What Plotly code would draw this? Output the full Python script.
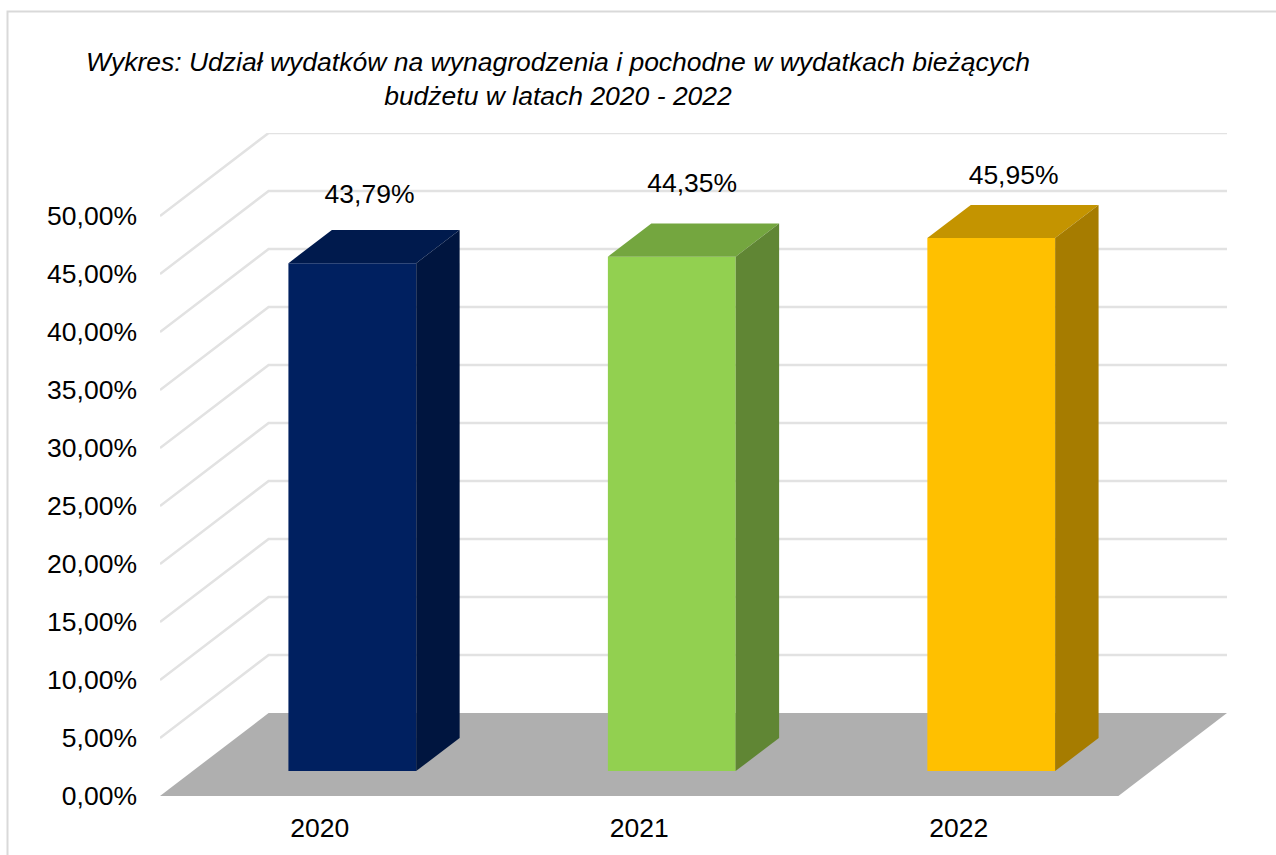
import plotly.graph_objects as go

# ---- data ----
years = ["2020", "2021", "2022"]
values = [43.79, 44.35, 45.95]
y_ticks = [0, 5, 10, 15, 20, 25, 30, 35, 40, 45, 50]
title_lines = [
    "Wykres: Udział wydatków na wynagrodzenia i pochodne w wydatkach bieżących",
    "budżetu w latach 2020 - 2022",
]

# ---- styling / pseudo-3D geometry, in axis units ----
front_colors = ["#002060", "#92D050", "#FFC000"]
top_colors = ["#001A4D", "#74A63F", "#C49400"]
side_colors = ["#00153F", "#608634", "#A67C00"]
floor_color = "#AFAFAF"
grid_color = "#E2E2E2"
frame_color = "#D9D9D9"
FONT = "Liberation Sans, Arial, sans-serif"
FS = 26.5
W, H = 1276, 855
ML, MR, MT, MB = 160, 49, 133, 59
DX = 0.34        # floor depth along x
DY = 7.155       # floor depth along y
D0, D1 = 0.30, 0.70   # where the bars sit within the depth
BW = 0.40        # bar width
label_dx = [0.156, 0.166, 0.172]
label_dy = [7.9, 8.3, 7.35]


def pct(v):
    return f"{v:.2f}".replace(".", ",") + "%"


xs = list(range(len(years)))
x_lo, x_hi = -0.5, len(years) - 0.5

fig = go.Figure()

# front faces
fig.add_trace(go.Bar(
    x=[x + D0 * DX for x in xs], y=values, base=[D0 * DY] * len(xs),
    width=BW, marker=dict(color=front_colors, line=dict(width=0)),
    hoverinfo="skip", showlegend=False,
))

# top and side faces
for x, v, tc, sc in zip(xs, values, top_colors, side_colors):
    l = x - BW / 2 + D0 * DX
    r = x + BW / 2 + D0 * DX
    sx = (D1 - D0) * DX
    sy = (D1 - D0) * DY
    b = D0 * DY
    fig.add_trace(go.Scatter(
        x=[l, r, r + sx, l + sx, l],
        y=[b + v, b + v, b + v + sy, b + v + sy, b + v],
        mode="lines", fill="toself", fillcolor=tc, line=dict(width=0),
        hoverinfo="skip", showlegend=False,
    ))
    fig.add_trace(go.Scatter(
        x=[r, r + sx, r + sx, r, r],
        y=[b, b + sy, b + v + sy, b + v, b],
        mode="lines", fill="toself", fillcolor=sc, line=dict(width=0),
        hoverinfo="skip", showlegend=False,
    ))

# data labels
fig.add_trace(go.Scatter(
    x=[x + d for x, d in zip(xs, label_dx)],
    y=[v + d for v, d in zip(values, label_dy)],
    mode="text",
    text=[pct(v) for v in values],
    textposition="middle center",
    textfont=dict(family=FONT, size=FS, color="#000000"),
    hoverinfo="skip", showlegend=False,
))

shapes = []
# wall and side grid lines
for t in y_ticks[1:]:
    shapes.append(dict(
        type="path", xref="x", yref="y", layer="below",
        path=f"M {x_lo},{t} L {x_lo + DX},{t + DY} L {x_hi + DX},{t + DY}",
        line=dict(color=grid_color, width=2.5),
    ))
# floor
shapes.append(dict(
    type="path", xref="x", yref="y", layer="below",
    path=f"M {x_lo},0 L {x_hi},0 L {x_hi + DX},{DY} L {x_lo + DX},{DY} Z",
    fillcolor=floor_color, line=dict(width=0),
))
# outer frame
pw, ph = W - ML - MR, H - MT - MB
fx = lambda p: (p - ML) / pw
fy = lambda p: (H - MB - p) / ph
shapes.append(dict(
    type="path", xref="paper", yref="paper", layer="below",
    path=f"M {fx(7.5)},{fy(855)} L {fx(7.5)},{fy(11.5)} L {fx(1276)},{fy(11.5)}",
    line=dict(color=frame_color, width=2),
))

fig.update_layout(
    width=W, height=H,
    margin=dict(l=ML, r=MR, t=MT, b=MB, pad=0),
    paper_bgcolor="#FFFFFF", plot_bgcolor="rgba(0,0,0,0)",
    showlegend=False,
    shapes=shapes,
    font=dict(family=FONT, color="#000000", size=FS),
    title=dict(
        text="<i>" + "<br>".join(title_lines) + "</i>",
        x=558 / W, xanchor="center", xref="container",
        y=1 - 71 / H, yanchor="top",
        font=dict(family=FONT, size=FS, color="#000000"),
    ),
    xaxis=dict(
        range=[x_lo, x_hi + DX], tickmode="array", tickvals=xs, ticktext=years,
        showgrid=False, zeroline=False, showline=False, ticks="",
        ticklabelstandoff=13, fixedrange=True,
    ),
    yaxis=dict(
        range=[0, 50 + DY], tickmode="array", tickvals=y_ticks,
        ticktext=[pct(t) for t in y_ticks],
        showgrid=False, zeroline=False, showline=False, ticks="",
        ticklabelstandoff=22, fixedrange=True,
    ),
)

fig.write_html(
    "out.html",
    config={"displayModeBar": False},
    post_script="document.body.style.margin='0';document.body.style.overflow='hidden';",
)
